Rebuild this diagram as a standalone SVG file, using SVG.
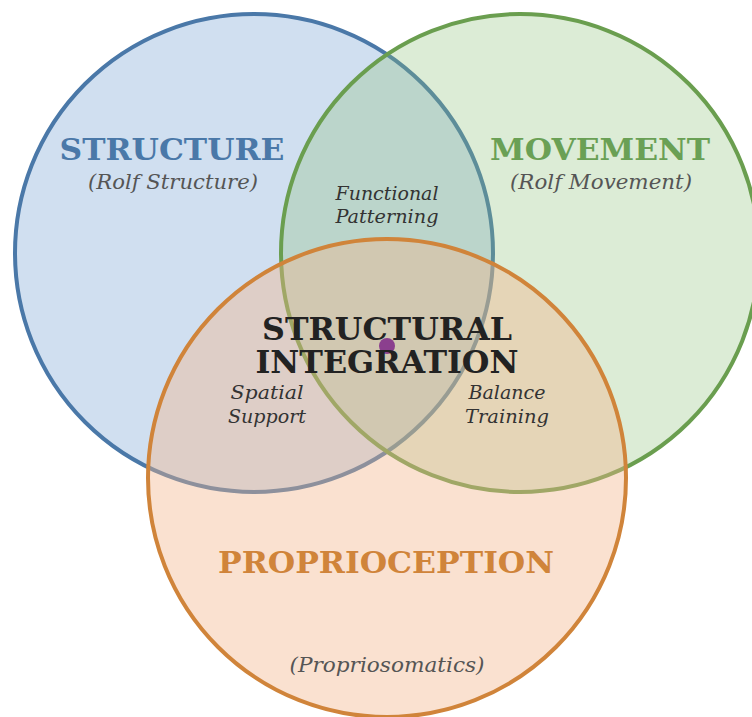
<svg xmlns="http://www.w3.org/2000/svg" width="752" height="717" viewBox="0 0 752 717">
  <style>
    .ring { stroke-width: 4; }
    .head { font-family: "DejaVu Serif", "Liberation Serif", serif; font-weight: bold; font-size: 30px; text-anchor: middle; }
    .sub { font-family: "DejaVu Serif", "Liberation Serif", serif; font-style: italic; font-size: 20px; fill: #555555; text-anchor: middle; }
    .pair { font-family: "DejaVu Serif", "Liberation Serif", serif; font-style: italic; font-size: 18px; fill: #333333; text-anchor: middle; }
    .core { font-family: "DejaVu Serif", "Liberation Serif", serif; font-weight: bold; font-size: 31px; fill: #222222; text-anchor: middle; }
  </style>
  <rect width="752" height="717" fill="#ffffff"/>

  <!-- three overlapping sets; later fills are translucent over the ones below -->
  <g id="structure">
    <circle class="ring" cx="254" cy="253" r="239" fill="#d0dff0" stroke="#4a78a8"/>
  </g>
  <g id="movement">
    <circle class="ring" cx="520" cy="253" r="239" fill="#8ac076" fill-opacity="0.3" stroke="#6a9e4f"/>
  </g>
  <g id="proprioception">
    <circle class="ring" cx="387" cy="478" r="239" fill="#f2b489" fill-opacity="0.4" stroke="#d0843a"/>
  </g>

  <!-- set labels -->
  <g id="structure-label">
    <text class="head" x="172" y="160" fill="#4a78a8" textLength="225" lengthAdjust="spacingAndGlyphs">STRUCTURE</text>
    <text class="sub" x="173" y="189" textLength="170" lengthAdjust="spacingAndGlyphs">(Rolf Structure)</text>
  </g>
  <g id="movement-label">
    <text class="head" x="600" y="160" fill="#6aa055" textLength="220" lengthAdjust="spacingAndGlyphs">MOVEMENT</text>
    <text class="sub" x="601" y="189" textLength="182" lengthAdjust="spacingAndGlyphs">(Rolf Movement)</text>
  </g>
  <g id="proprioception-label">
    <text class="head" x="386" y="573" fill="#d0843a" textLength="336" lengthAdjust="spacingAndGlyphs">PROPRIOCEPTION</text>
    <text class="sub" x="387" y="672" textLength="195" lengthAdjust="spacingAndGlyphs">(Propriosomatics)</text>
  </g>

  <!-- pairwise overlaps -->
  <g id="functional-patterning">
    <text class="pair" x="387" y="200" textLength="103" lengthAdjust="spacingAndGlyphs">Functional</text>
    <text class="pair" x="387" y="223" textLength="103" lengthAdjust="spacingAndGlyphs">Patterning</text>
  </g>
  <g id="spatial-support">
    <text class="pair" x="267" y="399" textLength="73" lengthAdjust="spacingAndGlyphs">Spatial</text>
    <text class="pair" x="267" y="423" textLength="78" lengthAdjust="spacingAndGlyphs">Support</text>
  </g>
  <g id="balance-training">
    <text class="pair" x="507" y="399" textLength="77" lengthAdjust="spacingAndGlyphs">Balance</text>
    <text class="pair" x="507" y="423" textLength="84" lengthAdjust="spacingAndGlyphs">Training</text>
  </g>

  <!-- centre of all three -->
  <g id="structural-integration">
    <text class="core" x="387" y="340" textLength="250" lengthAdjust="spacingAndGlyphs">STRUCTURAL</text>
    <circle cx="387" cy="346" r="8" fill="#8b3f8e"/>
    <text class="core" x="387" y="373" textLength="263" lengthAdjust="spacingAndGlyphs">INTEGRATION</text>
  </g>
</svg>
